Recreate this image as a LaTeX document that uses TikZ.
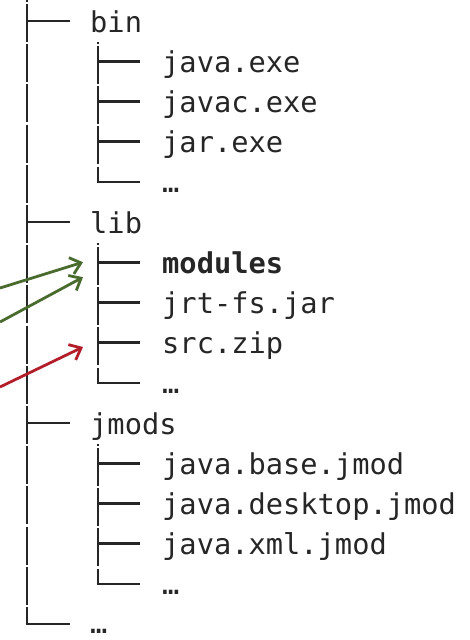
\documentclass[tikz,border=0pt]{standalone}
\usepackage{fontspec}
\setmonofont{DejaVu Sans Mono}
\usetikzlibrary{arrows.meta,calc}
\definecolor{txt}{HTML}{262626}
\definecolor{arrgreen}{HTML}{4A6B2E}
\definecolor{arrred}{HTML}{B21F2A}
\begin{document}
\begin{tikzpicture}[x=1pt,y=-1pt,
  entry/.style={anchor=base west, inner sep=0pt, font=\ttfamily\fontsize{28.7}{34}\selectfont, text=txt},
  boldentry/.style={entry, font=\ttfamily\bfseries\fontsize{28.7}{34}\selectfont},
  treeline/.style={line width=2.6pt, draw=txt},
  trunkline/.style={treeline, dash pattern=on 38pt off 2.2pt, dash phase=36.2pt},
  arrowg/.style={line width=2.8pt, draw=arrgreen, -{Straight Barb[length=10pt,width=17pt]}},
  arrowr/.style={line width=2.8pt, draw=arrred, -{Straight Barb[length=10pt,width=17pt]}}]
\useasboundingbox (0,0) rectangle (470,640);
% entries
\node[entry] (bin) at (90,32) {bin};
\node[entry] (javaexe) at (162,72.2) {java.exe};
\node[entry] (javacexe) at (162,112.4) {javac.exe};
\node[entry] (jarexe) at (162,152.6) {jar.exe};
\node[entry] (bindots) at (162,192.8) {…};
\node[entry] (lib) at (90,233) {lib};
\node[boldentry] (modules) at (162,273.2) {modules};
\node[entry] (jrtfs) at (162,313.4) {jrt-fs.jar};
\node[entry] (srczip) at (162,353.6) {src.zip};
\node[entry] (libdots) at (162,393.8) {…};
\node[entry] (jmods) at (90,434) {jmods};
\node[entry] (jbase) at (162,474.2) {java.base.jmod};
\node[entry] (jdesktop) at (162,514.4) {java.desktop.jmod};
\node[entry] (jxml) at (162,554.6) {java.xml.jmod};
\node[entry] (jmodsdots) at (162,594.8) {…};
\node[entry] (rootdots) at (90,633) {…};
% branch end points
\foreach \n in {bin,lib,jmods}
  \coordinate (\n-b) at ($(\n.base west)+(-20,-11)$);
\coordinate (rootdots-b) at ($(rootdots.base west)+(-20,-9)$);
\foreach \n in {javaexe,javacexe,jarexe,bindots,modules,jrtfs,srczip,libdots,jbase,jdesktop,jxml,jmodsdots}
  \coordinate (\n-b) at ($(\n.base west)+(-22,-11)$);
\coordinate (trunktop) at (27,0);
\foreach \n in {bin,lib,jmods}
  \coordinate (\n-v) at ($(\n-b)+(28,21)$);
% trunk
\draw[trunkline] (trunktop) -- (trunktop |- rootdots-b);
\draw[treeline] ([xshift=-1.3pt]trunktop |- rootdots-b) -- (rootdots-b);
\foreach \n in {bin,lib,jmods}
  \draw[treeline] (trunktop |- \n-b) -- (\n-b);
% second level
\draw[trunkline] (bin-v) -- (bin-v |- bindots-b);
\draw[trunkline] (lib-v) -- (lib-v |- libdots-b);
\draw[trunkline] (jmods-v) -- (jmods-v |- jmodsdots-b);
\draw[treeline] ([xshift=-1.3pt]bin-v |- bindots-b) -- (bindots-b);
\draw[treeline] ([xshift=-1.3pt]lib-v |- libdots-b) -- (libdots-b);
\draw[treeline] ([xshift=-1.3pt]jmods-v |- jmodsdots-b) -- (jmodsdots-b);
\foreach \n/\p in {javaexe/bin,javacexe/bin,jarexe/bin,modules/lib,jrtfs/lib,srczip/lib,jbase/jmods,jdesktop/jmods,jxml/jmods}
  \draw[treeline] (\p-v |- \n-b) -- (\n-b);
% arrows
\coordinate (g1s) at (0,288);
\coordinate (g1t) at ($(modules.base west)+(-79,-11)$);
\coordinate (g2s) at (0,322);
\coordinate (g2t) at ($(modules.base west)+(-79,4)$);
\coordinate (rs) at (0,387);
\coordinate (rt) at ($(srczip.base west)+(-79,-6.6)$);
\draw[arrowg] (g1s) -- (g1t);
\draw[arrowg] (g2s) -- (g2t);
\draw[arrowr] (rs) -- (rt);
\end{tikzpicture}
\end{document}
